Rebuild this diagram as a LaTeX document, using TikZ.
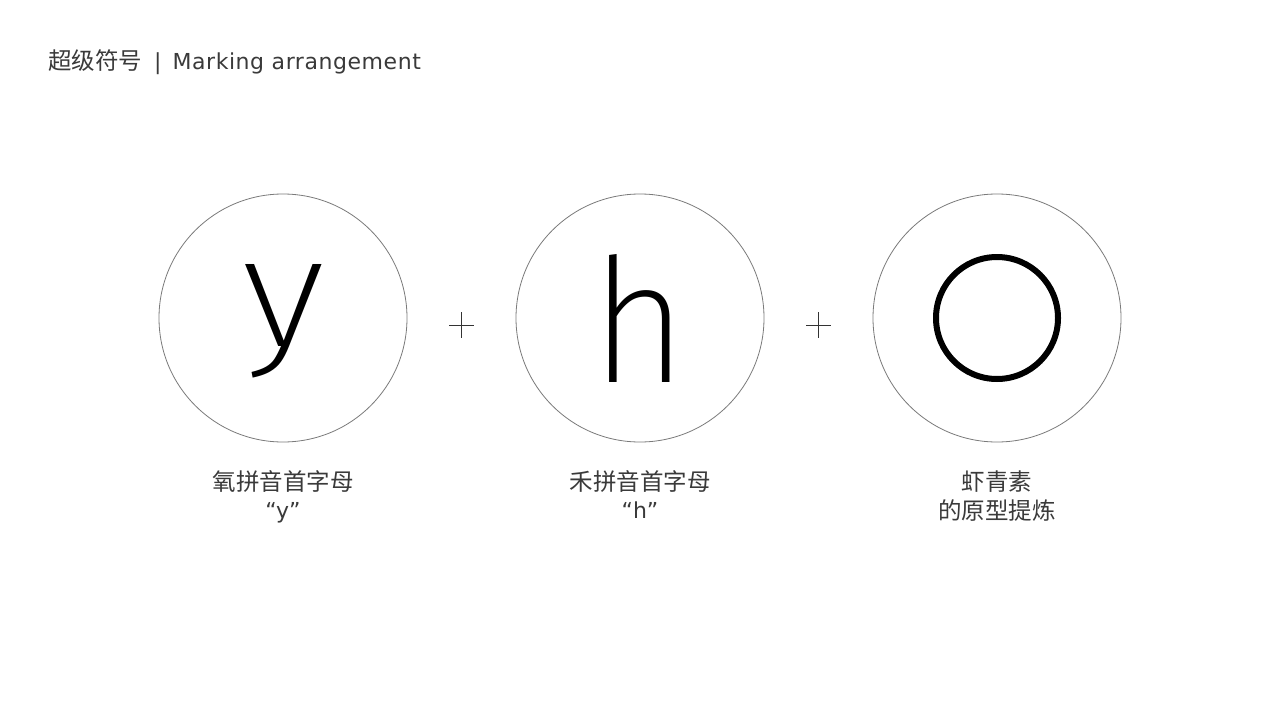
\documentclass[tikz,border=0pt]{standalone}
\usepackage{fontspec}
\setmainfont{DejaVu Sans}
\newfontfamily\cjk{Noto Sans CJK SC}
\newfontfamily\titlelat{DejaVu Sans}[LetterSpace=2.5]
\newif\ifthinfont
\IfFontExistsTF{Fira Sans ExtraLight}{\newfontfamily\thinf{Fira Sans ExtraLight}\thinfonttrue}{%
 \IfFontExistsTF{Fira Sans Thin}{\newfontfamily\thinf{Fira Sans Thin}\thinfonttrue}{%
  \IfFontExistsTF{Lato Hairline}{\newfontfamily\thinf{Lato Hairline}\thinfonttrue}{%
   \IfFontExistsTF{DejaVu Sans ExtraLight}{\newfontfamily\thinf{DejaVu Sans ExtraLight}\thinfonttrue}{\thinfontfalse}}}}
\usetikzlibrary{calc}
\definecolor{txt}{HTML}{3A3A3A}
\definecolor{ring}{HTML}{7A7A7A}
\definecolor{plusc}{HTML}{333333}
\tikzset{
  outercirc/.style={circle, draw=ring, line width=0.8pt, minimum size=248pt, inner sep=0pt},
  innerO/.style={circle, draw=black, line width=6pt, minimum size=122pt, inner sep=0pt},
  bigletter/.style={inner sep=0pt, outer sep=0pt, anchor=north, text=black},
  glyphstroke/.style={draw=black, line width=6pt},
  labcjk/.style={inner sep=0pt, anchor=base, text=txt, font=\cjk\fontsize{23.5}{28}\selectfont},
  lablat/.style={inner sep=0pt, anchor=base, text=txt, font=\fontsize{22}{26}\selectfont},
  plusline/.style={draw=plusc, line width=1pt},
  titlestyle/.style={inner sep=0pt, anchor=base west, text=txt, font=\fontsize{22}{26}\selectfont}
}
\begin{document}
\begin{tikzpicture}[x=1pt,y=-1pt]
\fill[white] (0,0) rectangle (1280,720);
\useasboundingbox (0,0) rectangle (1280,720);

% title
\node[titlestyle] (title) at (48,69) {{\cjk\fontsize{23.5}{28}\selectfont 超级符号}\hspace{12pt}|\hspace{11pt}{\titlelat Marking arrangement}};

% circles
\node[outercirc] (c1) at (283,318) {};
\node[outercirc] (c2) at (640,318) {};
\node[outercirc] (c3) at (997,318) {};

% letters
\ifthinfont
\node[bigletter] (ly) at (284,264) {\scalebox{1.145}[1]{\resizebox{!}{82pt}{\thinf y}}};
\node[bigletter] (lh) at (639,254) {\scalebox{0.95}[1]{\resizebox{!}{128pt}{\thinf h}}};
\else
\draw[glyphstroke] (249,255) -- (286.5,344);
\draw[glyphstroke] (318.5,255) -- (281,352) .. controls (272,374) and (266,377.5) .. (251,377.5);
\draw[glyphstroke, line width=6.5pt] (609.5,254) -- (609.5,382);
\draw[glyphstroke, line width=6.5pt] (609.5,322) .. controls (612,302) and (626,291) .. (641,291) .. controls (660,291) and (670.5,303) .. (670.5,325) -- (670.5,382);
\fi
\node[innerO] (lo) at (997,318) {};

% plus signs
\coordinate (p1) at (461.5,325);
\coordinate (p2) at (818.5,325);
\draw[plusline] ($(p1)+(-12.5,0)$) -- ($(p1)+(12.5,0)$);
\draw[plusline] ($(p1)+(0,-13)$) -- ($(p1)+(0,13)$);
\draw[plusline] ($(p2)+(-12.5,0)$) -- ($(p2)+(12.5,0)$);
\draw[plusline] ($(p2)+(0,-13)$) -- ($(p2)+(0,13)$);

% labels
\node[labcjk] (l1a) at (283,490) {氧拼音首字母};
\node[lablat] (l1b) at (283,518) {“y”};
\node[labcjk] (l2a) at (640,490) {禾拼音首字母};
\node[lablat] (l2b) at (640,518) {“h”};
\node[labcjk] (l3a) at (997,490) {虾青素};
\node[labcjk] (l3b) at (997,519) {的原型提炼};
\end{tikzpicture}
\end{document}
